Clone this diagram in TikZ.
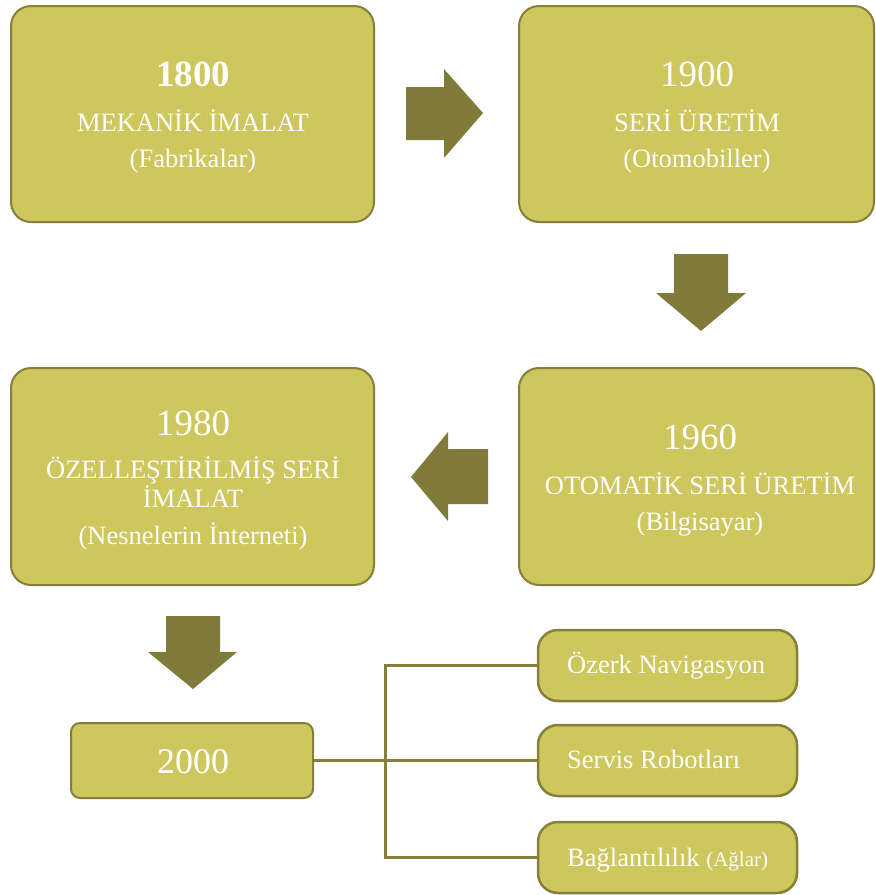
\documentclass[tikz,border=0pt]{standalone}
\usepackage{fontspec}
\setmainfont{Liberation Serif}
\definecolor{boxfill}{HTML}{CDC75D}
\definecolor{boxline}{HTML}{857F3A}
\definecolor{arrowfill}{HTML}{817B3A}
\tikzset{
  bigbox/.style={draw=boxline, fill=boxfill, line width=2pt, rounded corners=20pt, inner sep=0pt},
  smallbox/.style={draw=boxline, fill=boxfill, line width=2pt, rounded corners=9pt, inner sep=0pt},
  subbox/.style={draw=boxline, fill=boxfill, line width=2.5pt, rounded corners=20pt, inner sep=0pt},
  yeartxt/.style={anchor=base, text=white, inner sep=0pt, font=\fontsize{37}{40}\selectfont},
  maintxt/.style={anchor=base, text=white, inner sep=0pt, font=\fontsize{26.5}{30}\selectfont},
  subtxt/.style={anchor=base west, text=white, inner sep=0pt, font=\fontsize{26.5}{30}\selectfont},
  bigarrow/.style={fill=arrowfill, draw=none},
  conn/.style={draw=boxline, line width=3pt}
}
\begin{document}
\begin{tikzpicture}[x=1pt,y=-1pt]
\useasboundingbox (0,0) rectangle (876,895);

% main boxes
\node[bigbox, minimum width=363pt, minimum height=216pt] (b1800) at (192.5,114) {};
\node[bigbox, minimum width=355pt, minimum height=216pt] (b1900) at (696.5,114) {};
\node[bigbox, minimum width=355pt, minimum height=217pt] (b1960) at (696.5,476.5) {};
\node[bigbox, minimum width=363pt, minimum height=217pt] (b1980) at (192.5,476.5) {};
\node[smallbox, minimum width=242pt, minimum height=75pt] (b2000) at (192,760.5) {};

% sub boxes
\node[subbox, minimum width=259pt, minimum height=71pt] (s1) at (667.5,665.5) {};
\node[subbox, minimum width=259pt, minimum height=71pt] (s2) at (667.5,760.5) {};
\node[subbox, minimum width=259pt, minimum height=71pt] (s3) at (667.5,857.5) {};

% texts box 1800
\node[yeartxt, font=\fontsize{37}{40}\selectfont\bfseries] (t1a) at (193,86) {1800};
\node[maintxt] (t1b) at (193,131) {MEKANİK İMALAT};
\node[maintxt] (t1c) at (193,167) {(Fabrikalar)};

% texts box 1900
\node[yeartxt] (t2a) at (697,86) {1900};
\node[maintxt] (t2b) at (697,131) {SERİ ÜRETİM};
\node[maintxt] (t2c) at (697,167) {(Otomobiller)};

% texts box 1960
\node[yeartxt] (t3a) at (700,449) {1960};
\node[maintxt] (t3b) at (700,494) {OTOMATİK SERİ ÜRETİM};
\node[maintxt] (t3c) at (700,530) {(Bilgisayar)};

% texts box 1980
\node[yeartxt] (t4a) at (193,435) {1980};
\node[maintxt] (t4b) at (193,478) {ÖZELLEŞTİRİLMİŞ SERİ};
\node[maintxt] (t4c) at (193,507) {İMALAT};
\node[maintxt] (t4d) at (193,544) {(Nesnelerin İnterneti)};

% text box 2000
\node[yeartxt, font=\fontsize{36}{40}\selectfont] (t5a) at (193,773) {2000};

% sub texts
\node[subtxt] (u1) at (567,673) {Özerk Navigasyon};
\node[subtxt] (u2) at (567,768) {Servis Robotları};
\node[subtxt] (u3) at (567,866) {Bağlantılılık {\fontsize{21}{24}\selectfont(Ağlar)}};

% block arrows
\fill[bigarrow] (406,87) -- (444,87) -- (444,69) -- (483,113) -- (444,158) -- (444,140) -- (406,140) -- cycle;
\fill[bigarrow] (674,254) -- (728,254) -- (728,293) -- (746,293) -- (701,331) -- (656,293) -- (674,293) -- cycle;
\fill[bigarrow] (488,449) -- (448,449) -- (448,432) -- (411,477) -- (448,521) -- (448,504) -- (488,504) -- cycle;
\fill[bigarrow] (166,616) -- (220,616) -- (220,652) -- (237,652) -- (193,689) -- (148,652) -- (166,652) -- cycle;

% connectors
\coordinate (jt) at (385,665.5);
\coordinate (jb) at (385,857.5);
\draw[conn] (s1.west) -- (jt) -- (jb) -- (s3.west);
\draw[conn] (b2000.east) -- (s2.west);
\end{tikzpicture}
\end{document}
